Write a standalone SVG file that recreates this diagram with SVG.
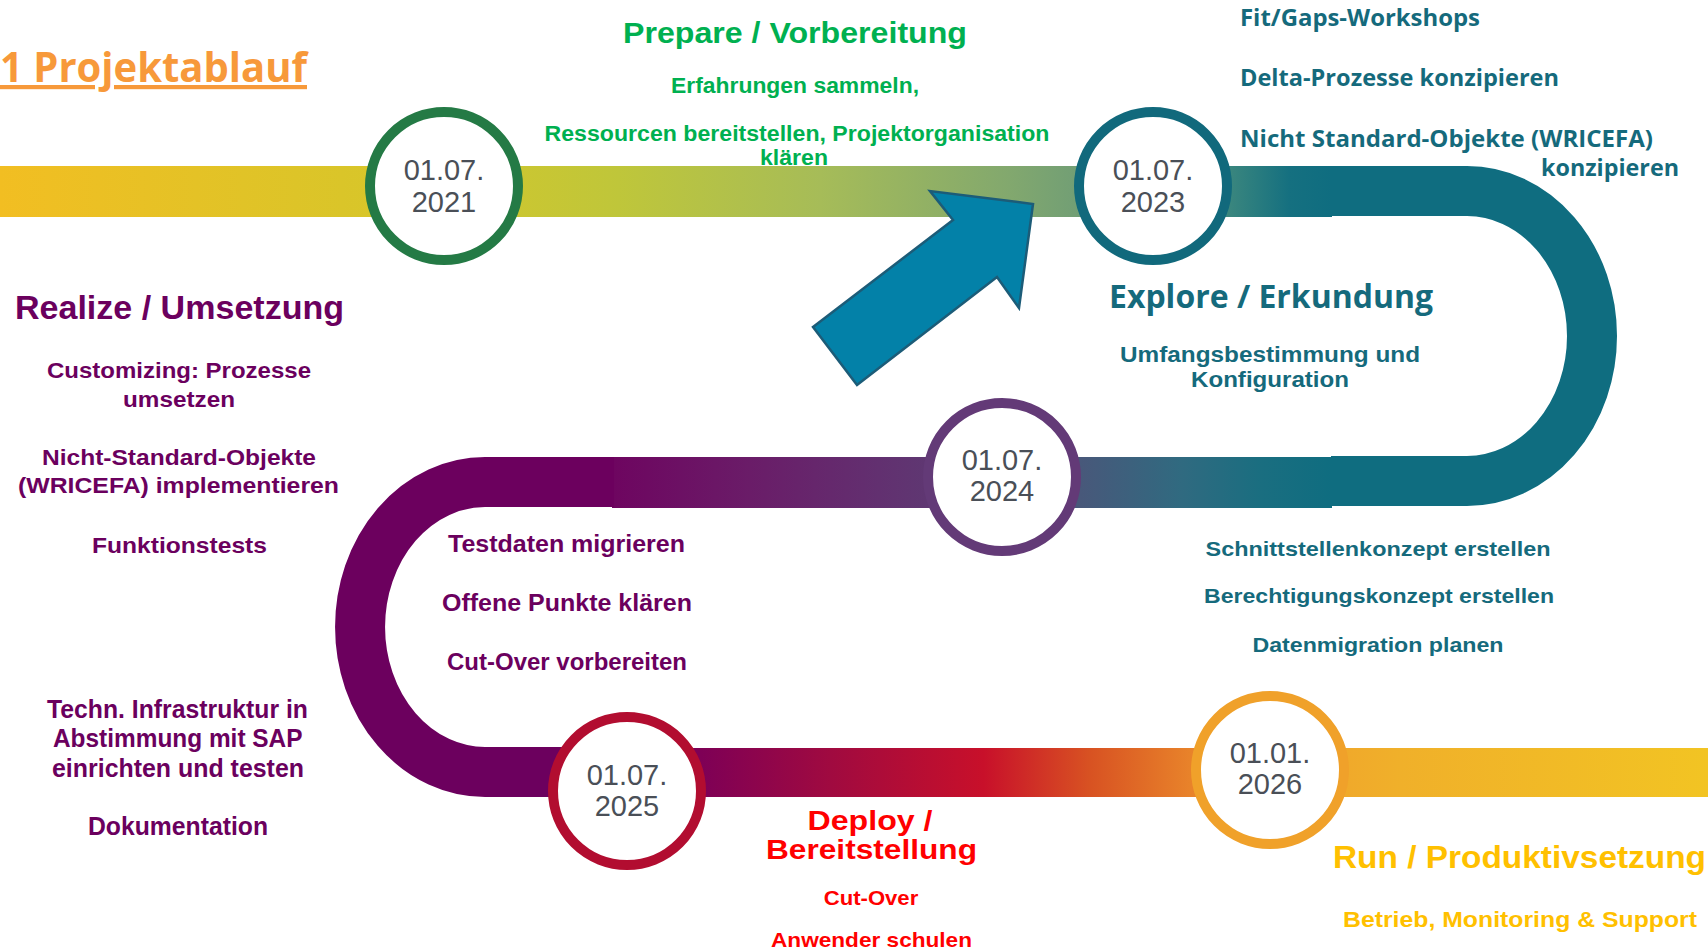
<svg xmlns="http://www.w3.org/2000/svg" width="1708" height="951" viewBox="0 0 1708 951">
<style>
  .c { font-family: "Liberation Sans Narrow", "Liberation Sans", Arial, sans-serif; font-weight: bold; text-anchor: middle; }
  .s { font-family: "Open Sans", "Liberation Sans", Arial, sans-serif; font-weight: bold; }
  .l { font-family: "Liberation Sans", Arial, sans-serif; font-weight: bold; text-anchor: middle; }
  .m { text-anchor: middle; }
  .d { font-family: "Liberation Sans", Arial, sans-serif; font-size: 29px; fill: #4a4f57; text-anchor: middle; }
  .ring { fill: #ffffff; stroke-width: 10; }
  .green { fill: #00b050; }
  .teal { fill: #156a7c; }
  .purple { fill: #6b005e; }
  .red { fill: #ff0000; }
  .gold { fill: #ffc000; }
</style>
<defs>
  <linearGradient id="gTop" gradientUnits="userSpaceOnUse" x1="0" y1="0" x2="1332" y2="0">
    <stop offset="0" stop-color="#f2be22"/>
    <stop offset="0.33" stop-color="#d3c72b"/>
    <stop offset="0.465" stop-color="#bfc63a"/>
    <stop offset="0.616" stop-color="#a6bc58"/>
    <stop offset="0.758" stop-color="#82a86e"/>
    <stop offset="0.833" stop-color="#6a9a78"/>
    <stop offset="0.923" stop-color="#3a867e"/>
    <stop offset="0.968" stop-color="#157080"/>
    <stop offset="1" stop-color="#0f6d80"/>
  </linearGradient>
  <linearGradient id="gMid" gradientUnits="userSpaceOnUse" x1="613" y1="0" x2="1332" y2="0">
    <stop offset="0" stop-color="#6e0560"/>
    <stop offset="0.19" stop-color="#6a1c68"/>
    <stop offset="0.37" stop-color="#623070"/>
    <stop offset="0.54" stop-color="#5a4275"/>
    <stop offset="0.65" stop-color="#48587a"/>
    <stop offset="0.79" stop-color="#306a80"/>
    <stop offset="0.9" stop-color="#1a6e80"/>
    <stop offset="1" stop-color="#0f6d80"/>
  </linearGradient>
  <linearGradient id="gBot" gradientUnits="userSpaceOnUse" x1="627" y1="0" x2="1708" y2="0">
    <stop offset="0" stop-color="#6c005e"/>
    <stop offset="0.068" stop-color="#7e0056"/>
    <stop offset="0.188" stop-color="#a00a40"/>
    <stop offset="0.33" stop-color="#c8102a"/>
    <stop offset="0.428" stop-color="#d85222"/>
    <stop offset="0.52" stop-color="#e8822a"/>
    <stop offset="0.594" stop-color="#f0a02c"/>
    <stop offset="0.715" stop-color="#f0b02a"/>
    <stop offset="1" stop-color="#f2c423"/>
  </linearGradient>
</defs>

<g id="connectors">
  <rect x="0" y="166" width="1332" height="51" fill="url(#gTop)"/>
  <path d="M1331,191 H1467 A125,145 0 0 1 1467,481 H1331" fill="none" stroke="#0f6d80" stroke-width="50"/>
  <rect x="612" y="457" width="720" height="51" fill="url(#gMid)"/>
  <path d="M614,482 H485 A125,145 0 0 0 485,772 H640" fill="none" stroke="#6c005e" stroke-width="50"/>
  <rect x="627" y="748" width="1081" height="49" fill="url(#gBot)"/>
</g>

<g id="arrow">
  <polygon points="813,327 953,220 930,191 1033,204 1019,308 997,277 857,385" fill="#0381a8" stroke="#1c5c78" stroke-width="2.5" stroke-linejoin="miter"/>
</g>

<g id="title">
  <text x="0" y="82" class="s" font-size="42" fill="#f7993a" text-decoration="underline" textLength="307" lengthAdjust="spacingAndGlyphs">1 Projektablauf</text>
</g>

<g id="node-2021">
  <circle cx="444" cy="186" r="74" class="ring" stroke="#247a45"/>
  <text x="444" y="180" class="d">01.07.</text>
  <text x="444" y="212" class="d">2021</text>
</g>
<g id="node-2023">
  <circle cx="1153" cy="186" r="74" class="ring" stroke="#11697c"/>
  <text x="1153" y="180" class="d">01.07.</text>
  <text x="1153" y="212" class="d">2023</text>
</g>
<g id="node-2024">
  <circle cx="1002" cy="477" r="74" class="ring" stroke="#633a77"/>
  <text x="1002" y="470" class="d">01.07.</text>
  <text x="1002" y="501" class="d">2024</text>
</g>
<g id="node-2025">
  <circle cx="627" cy="791" r="74" class="ring" stroke="#b20d30"/>
  <text x="627" y="785" class="d">01.07.</text>
  <text x="627" y="816" class="d">2025</text>
</g>
<g id="node-2026">
  <circle cx="1270" cy="770" r="74" class="ring" stroke="#f0a12a"/>
  <text x="1270" y="763" class="d">01.01.</text>
  <text x="1270" y="794" class="d">2026</text>
</g>

<g id="phase-prepare" class="green">
  <text x="795" y="43" class="c" font-size="30" textLength="344" lengthAdjust="spacingAndGlyphs">Prepare / Vorbereitung</text>
  <text x="795" y="93" class="c" font-size="22" textLength="248" lengthAdjust="spacingAndGlyphs">Erfahrungen sammeln,</text>
  <text x="797" y="141" class="c" font-size="22" textLength="505" lengthAdjust="spacingAndGlyphs">Ressourcen bereitstellen, Projektorganisation</text>
  <text x="794" y="165" class="c" font-size="22" textLength="68" lengthAdjust="spacingAndGlyphs">klären</text>
</g>

<g id="phase-explore" class="teal">
  <text x="1240" y="26" class="s" font-size="23" textLength="240" lengthAdjust="spacingAndGlyphs">Fit/Gaps-Workshops</text>
  <text x="1240" y="86" class="s" font-size="23" textLength="319" lengthAdjust="spacingAndGlyphs">Delta-Prozesse konzipieren</text>
  <text x="1240" y="147" class="s" font-size="23" textLength="413" lengthAdjust="spacingAndGlyphs">Nicht Standard-Objekte (WRICEFA)</text>
  <text x="1541" y="176" class="s" font-size="23" textLength="138" lengthAdjust="spacingAndGlyphs">konzipieren</text>
  <text x="1271" y="308" class="s m" font-size="32" textLength="324" lengthAdjust="spacingAndGlyphs">Explore / Erkundung</text>
  <text x="1270" y="362" class="l" font-size="22" textLength="300" lengthAdjust="spacingAndGlyphs">Umfangsbestimmung und</text>
  <text x="1270" y="387" class="l" font-size="22" textLength="158" lengthAdjust="spacingAndGlyphs">Konfiguration</text>
  <text x="1378" y="556" class="c" font-size="21" textLength="345" lengthAdjust="spacingAndGlyphs">Schnittstellenkonzept erstellen</text>
  <text x="1379" y="603" class="c" font-size="21" textLength="350" lengthAdjust="spacingAndGlyphs">Berechtigungskonzept erstellen</text>
  <text x="1378" y="652" class="c" font-size="21" textLength="251" lengthAdjust="spacingAndGlyphs">Datenmigration planen</text>
</g>

<g id="phase-realize" class="purple">
  <text x="179.5" y="319" class="c" font-size="33" textLength="329" lengthAdjust="spacingAndGlyphs">Realize / Umsetzung</text>
  <text x="179" y="378" class="c" font-size="22" textLength="264" lengthAdjust="spacingAndGlyphs">Customizing: Prozesse</text>
  <text x="179" y="407" class="c" font-size="22" textLength="112" lengthAdjust="spacingAndGlyphs">umsetzen</text>
  <text x="179" y="465" class="c" font-size="22" textLength="274" lengthAdjust="spacingAndGlyphs">Nicht-Standard-Objekte</text>
  <text x="178.5" y="493" class="c" font-size="22" textLength="321" lengthAdjust="spacingAndGlyphs">(WRICEFA) implementieren</text>
  <text x="179.5" y="553" class="c" font-size="22" textLength="175" lengthAdjust="spacingAndGlyphs">Funktionstests</text>
  <text x="566.5" y="552" class="c" font-size="23" textLength="237" lengthAdjust="spacingAndGlyphs">Testdaten migrieren</text>
  <text x="567" y="611" class="c" font-size="23" textLength="250" lengthAdjust="spacingAndGlyphs">Offene Punkte klären</text>
  <text x="567" y="670" class="c" font-size="23" textLength="240" lengthAdjust="spacingAndGlyphs">Cut-Over vorbereiten</text>
  <text x="177.5" y="718" class="c" font-size="25" textLength="261" lengthAdjust="spacingAndGlyphs">Techn. Infrastruktur in</text>
  <text x="177.75" y="747" class="c" font-size="25" textLength="249.5" lengthAdjust="spacingAndGlyphs">Abstimmung mit SAP</text>
  <text x="178" y="777" class="c" font-size="25" textLength="252" lengthAdjust="spacingAndGlyphs">einrichten und testen</text>
  <text x="178" y="835" class="c" font-size="25" textLength="180" lengthAdjust="spacingAndGlyphs">Dokumentation</text>
</g>

<g id="phase-deploy" class="red">
  <text x="870" y="830" class="c" font-size="28" textLength="125" lengthAdjust="spacingAndGlyphs">Deploy /</text>
  <text x="871.5" y="859" class="c" font-size="27" textLength="211" lengthAdjust="spacingAndGlyphs">Bereitstellung</text>
  <text x="871" y="905" class="c" font-size="21" textLength="94.5" lengthAdjust="spacingAndGlyphs">Cut-Over</text>
  <text x="871.5" y="947" class="c" font-size="21" textLength="201" lengthAdjust="spacingAndGlyphs">Anwender schulen</text>
</g>

<g id="phase-run" class="gold">
  <text x="1519.5" y="868" class="c" font-size="32" textLength="373" lengthAdjust="spacingAndGlyphs">Run / Produktivsetzung</text>
  <text x="1520" y="927" class="c" font-size="22" textLength="354" lengthAdjust="spacingAndGlyphs">Betrieb, Monitoring &amp; Support</text>
</g>
</svg>
